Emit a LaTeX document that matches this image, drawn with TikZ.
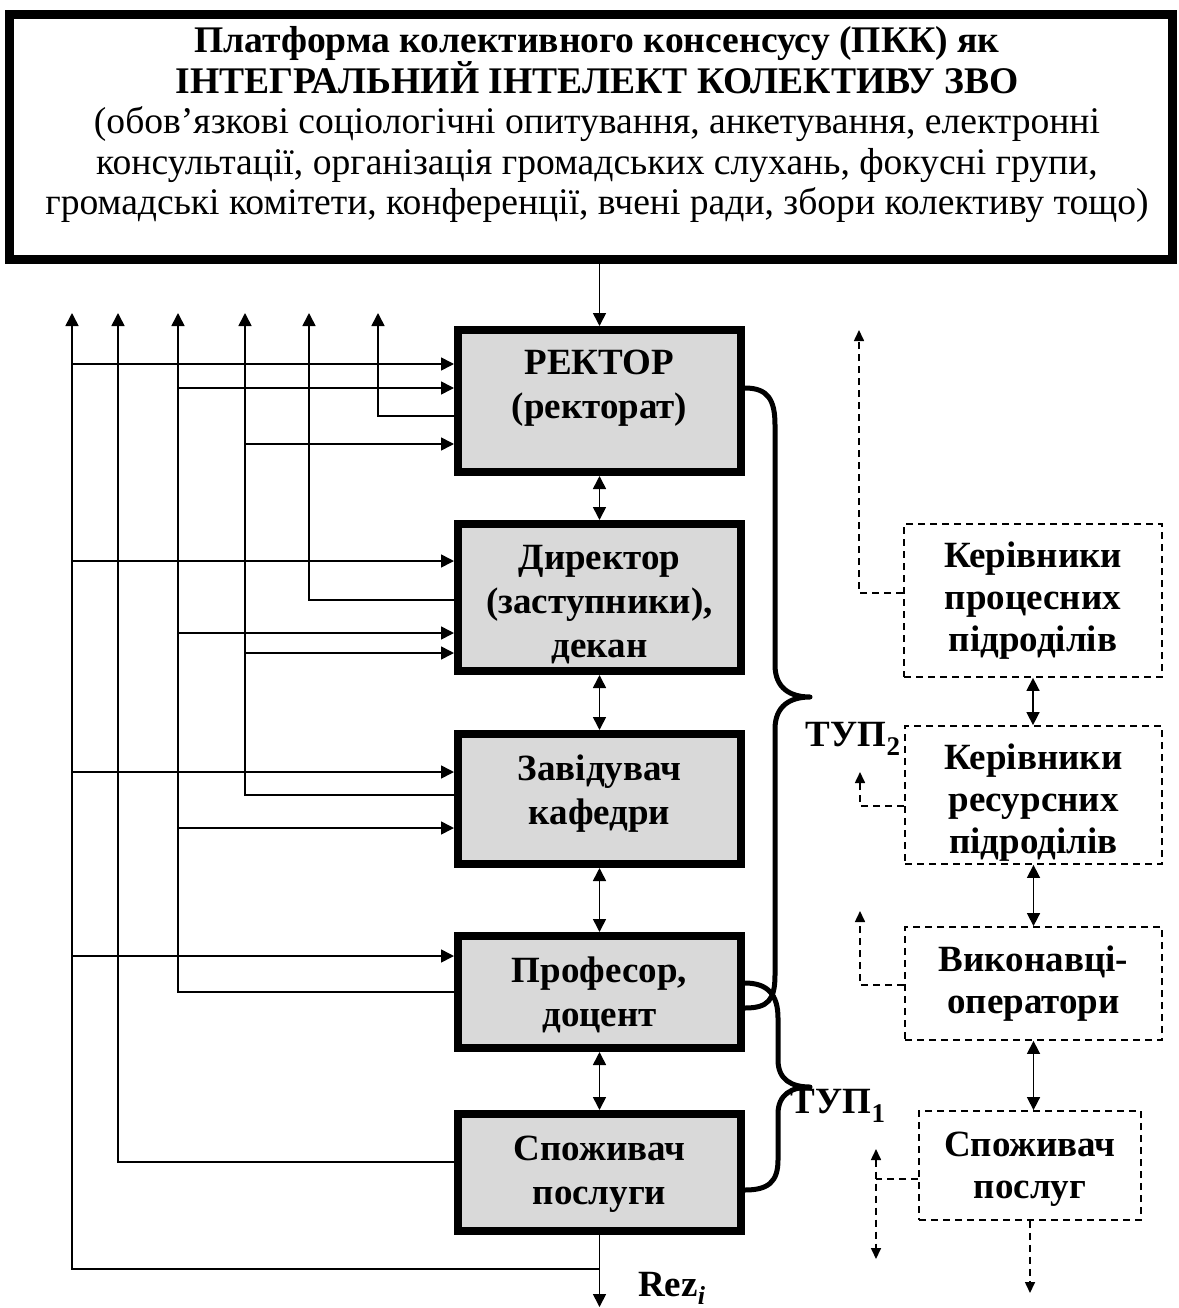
\documentclass[tikz,border=0pt]{standalone}
\usepackage{fontspec}
\setmainfont{Liberation Serif}
\usetikzlibrary{arrows.meta}
\definecolor{boxgray}{RGB}{217,217,217}
\begin{document}
\begin{tikzpicture}[x=1pt,y=-1pt,
  mainbox/.style={draw=black, line width=8pt, fill=boxgray, inner sep=0pt, minimum width=283pt},
  topbox/.style={draw=black, line width=9pt, fill=white, inner sep=0pt},
  dbox/.style={draw=black, dash pattern=on 7pt off 5pt, line width=1.8pt, inner sep=0pt},
  btxt/.style={font=\fontsize{37}{44}\selectfont\bfseries, align=center, inner sep=0pt},
  dtxt/.style={font=\fontsize{37}{42}\selectfont\bfseries, align=center, inner sep=0pt},
  ln/.style={line width=1.6pt},
  arr/.style={ln, -{Triangle[length=13pt,width=13pt]}},
  darr/.style={ln, {Triangle[length=13pt,width=13pt]}-{Triangle[length=13pt,width=13pt]}},
  dln/.style={line width=1.6pt, dash pattern=on 7pt off 5pt},
  darrw/.style={dln, -{Triangle[length=11pt,width=10pt]}},
  bracestyle/.style={line width=5pt, line cap=round, line join=round}
]
\useasboundingbox (0,0) rectangle (1178,1308);

% top platform box
\node[topbox, minimum width=1163pt, minimum height=244pt] (top) at (590.5,137) {};
\node[font=\fontsize{37.6}{40.5}\selectfont, align=center, inner sep=0pt] (toptxt) at (597,125)
 {\textbf{Платформа колективного консенсусу (ПКК) як}\\
  \textbf{ІНТЕГРАЛЬНИЙ ІНТЕЛЕКТ КОЛЕКТИВУ ЗВО}\\
  (обов’язкові соціологічні опитування, анкетування, електронні\\
  консультації, організація громадських слухань, фокусні групи,\\
  громадські комітети, конференції, вчені ради, збори колективу тощо)};

% main hierarchy boxes
\node[mainbox, minimum height=142pt] (rector) at (599.5,401) {};
\node[mainbox, minimum height=147pt] (dir) at (599.5,597.5) {};
\node[mainbox, minimum height=130pt] (zav) at (599.5,799) {};
\node[mainbox, minimum height=112pt] (prof) at (599.5,992) {};
\node[mainbox, minimum height=117pt] (sp) at (599.5,1172.5) {};

\node[btxt] (rectorT) at (599.5,388) {РЕКТОР\\(ректорат)};
\node[btxt] (dirT) at (599.5,605) {Директор\\(заступники),\\декан};
\node[btxt] (zavT) at (599.5,794) {Завідувач\\кафедри};
\node[btxt] (profT) at (599.5,995) {Професор,\\доцент};
\node[btxt] (spT) at (599.5,1174) {Споживач\\послуги};

% dashed boxes on the right
\node[dbox, minimum width=258pt, minimum height=153pt] (d1) at (1033,600.5) {};
\node[dbox, minimum width=257pt, minimum height=138pt] (d2) at (1033.5,795) {};
\node[dbox, minimum width=257pt, minimum height=113pt] (d3) at (1033.5,983.5) {};
\node[dbox, minimum width=222pt, minimum height=109pt] (d4) at (1030,1165.5) {};

\node[dtxt] (d1T) at (1033,601) {Керівники\\процесних\\підроділів};
\node[dtxt] (d2T) at (1033.5,803) {Керівники\\ресурсних\\підроділів};
\node[dtxt] (d3T) at (1033.5,984) {Виконавці-\\оператори};
\node[dtxt] (d4T) at (1030,1169) {Споживач\\послуг};

% labels
\node[btxt] (tup2) at (853,739) {ТУП\raisebox{-0.25em}{\fontsize{27}{27}\selectfont 2}};
\node[btxt] (tup1) at (838,1106) {ТУП\raisebox{-0.25em}{\fontsize{27}{27}\selectfont 1}};
\node[font=\fontsize{37}{44}\selectfont\bfseries, anchor=base west, inner sep=0pt] (rez) at (638,1296)
 {Rez\raisebox{-0.22em}{\fontsize{26}{26}\selectfont\itshape i}};

% vertical connectors of the hierarchy
\draw[arr] (rector.north |- top.south) -- (rector.north);
\draw[darr] (rector.south) -- (dir.north);
\draw[darr] (dir.south) -- (zav.north);
\draw[darr] (zav.south) -- (prof.north);
\draw[darr] (prof.south) -- (sp.north);
\coordinate (rezend) at (599.5,1307);
\draw[arr] (sp.south) -- (rezend);

% left feedback lines
\coordinate (L1) at (72,313);
\coordinate (L2) at (118,313);
\coordinate (L3) at (178,313);
\coordinate (L4) at (245,313);
\coordinate (L5) at (309,313);
\coordinate (L6) at (378,313);

\draw[arr] (sp.south |- 0,1269) -| (L1);
\draw[arr] (sp.west |- 0,1162) -| (L2);
\draw[arr] (prof.west |- 0,992) -| (L3);
\draw[arr] (zav.west |- 0,795) -| (L4);
\draw[arr] (dir.west |- 0,600) -| (L5);
\draw[arr] (rector.west |- 0,416) -| (L6);

% inputs
\draw[arr] (L1 |- 0,364) -- (rector.west |- 0,364);
\draw[arr] (L3 |- 0,388) -- (rector.west |- 0,388);
\draw[arr] (L4 |- 0,444) -- (rector.west |- 0,444);
\draw[arr] (L1 |- 0,561) -- (dir.west |- 0,561);
\draw[arr] (L3 |- 0,633) -- (dir.west |- 0,633);
\draw[arr] (L4 |- 0,653) -- (dir.west |- 0,653);
\draw[arr] (L1 |- 0,772) -- (zav.west |- 0,772);
\draw[arr] (L3 |- 0,828) -- (zav.west |- 0,828);
\draw[arr] (L1 |- 0,956) -- (prof.west |- 0,956);

% braces
\draw[bracestyle] (745,388) .. controls (768,388) and (775,400) .. (775,425)
  -- (775,665) .. controls (775,688) and (790,697) .. (810,697)
  .. controls (790,697) and (775,706) .. (775,729)
  -- (775,975) .. controls (775,1000) and (768,1008) .. (745,1008);
\draw[bracestyle] (745,983) .. controls (768,983) and (778,995) .. (778,1018)
  -- (778,1060) .. controls (778,1080) and (792,1087) .. (810,1087)
  .. controls (792,1087) and (778,1094) .. (778,1114)
  -- (778,1160) .. controls (778,1182) and (768,1190) .. (745,1190);

% right side connectors
\draw[darr] (d1.south) -- (d1.south |- d2.north);
\draw[darr] (d2.south) -- (d2.south |- d3.north);
\draw[darr] (d3.south) -- (d3.south |- d4.north);

\coordinate (d1up) at (859,330);
\coordinate (d2up) at (860,772);
\coordinate (d3up) at (860,911);
\coordinate (d4up) at (876,1149);
\coordinate (d4dn) at (876,1259);
\draw[darrw] (d1.west |- 0,593) -| (d1up);
\draw[darrw] (d2.west |- 0,806) -| (d2up);
\draw[darrw] (d3.west |- 0,985) -| (d3up);
\draw[dln] (d4.west |- 0,1179) -- (d4up |- 0,1179);
\draw[dln, {Triangle[length=11pt,width=10pt]}-{Triangle[length=11pt,width=10pt]}] (d4up) -- (d4dn);
\draw[darrw] (d4.south) -- (d4.south |- 0,1293);
\end{tikzpicture}
\end{document}
